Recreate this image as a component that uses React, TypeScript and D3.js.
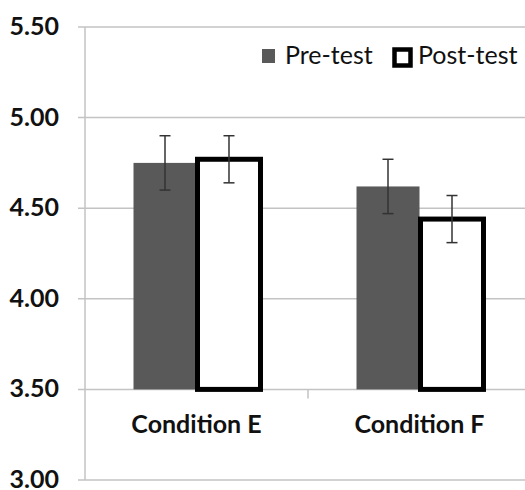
import React from 'react'
import * as d3 from 'd3'

const categories = ['Condition E', 'Condition F']
const seriesNames = ['Pre-test', 'Post-test']
const preTest = [4.75, 4.62]
const postTest = [4.77, 4.44]
const preErr = [0.15, 0.15]
const postErr = [0.13, 0.13]
const yTicks = [3.0, 3.5, 4.0, 4.5, 5.0, 5.5]

const width = 525
const height = 490
const font = 'Lato, "Open Sans", sans-serif'
const gridColor = '#c3c3c3'

export default function App() {
  const y = d3.scaleLinear().domain([3, 5.5]).range([480, 27])
  const x = d3.scaleBand<string>().domain(categories).range([85, 531])
  const xInner = d3.scaleBand<string>().domain(seriesNames).range([0, x.bandwidth()]).paddingOuter(0.77)
  const baseY = y(3.5)

  const rows = categories.map((c, i) => ({
    cat: c,
    values: [
      { name: seriesNames[0], v: preTest[i], e: preErr[i] },
      { name: seriesNames[1], v: postTest[i], e: postErr[i] },
    ],
  }))

  return (
    <svg width={width} height={height} style={{ position: 'absolute', left: 0, top: 0, background: '#fff' }}>
      {/* gridlines + y labels */}
      {yTicks.map((t) => (
        <g key={t}>
          <line x1={78} x2={width} y1={y(t)} y2={y(t)} stroke={gridColor} strokeWidth={1.5} />
          <text x={59} y={y(t) + 8} textAnchor="end" fontFamily={font} fontWeight="bold" fontSize={25} fill="#111">
            {t.toFixed(2)}
          </text>
        </g>
      ))}
      {/* vertical axis */}
      <line x1={x.range()[0]} x2={x.range()[0]} y1={y(5.5)} y2={y(3)} stroke={gridColor} strokeWidth={1.5} />
      {/* category separator tick */}
      <line x1={x('Condition F')} x2={x('Condition F')} y1={baseY} y2={baseY + 9} stroke={gridColor} strokeWidth={1.5} />

      {/* bars */}
      {rows.map((r) => (
        <g key={r.cat} transform={`translate(${x(r.cat)},0)`}>
          {r.values.map((d, j) => {
            const bx = xInner(d.name) as number
            const bw = xInner.bandwidth()
            const top = y(d.v)
            return (
              <g key={d.name}>
                {j === 0 ? (
                  <rect x={bx} y={top} width={bw} height={baseY - top} fill="#595959" />
                ) : (
                  <rect x={bx + 1} y={top} width={bw} height={baseY - top} fill="#fff" stroke="#000" strokeWidth={5} />
                )}
              </g>
            )
          })}
          {r.values.map((d, j) => {
            const cx = (xInner(d.name) as number) + xInner.bandwidth() / 2 + (j === 1 ? 1 : 0)
            return (
              <g key={d.name + '-err'} stroke="#333" strokeWidth={1.5}>
                <line x1={cx} x2={cx} y1={y(d.v + d.e)} y2={y(d.v - d.e)} />
                <line x1={cx - 5.5} x2={cx + 5.5} y1={y(d.v + d.e)} y2={y(d.v + d.e)} />
                <line x1={cx - 5.5} x2={cx + 5.5} y1={y(d.v - d.e)} y2={y(d.v - d.e)} />
              </g>
            )
          })}
          <text
            x={x.bandwidth() / 2}
            y={433}
            textAnchor="middle"
            fontFamily={font}
            fontWeight="bold"
            fontSize={25}
            fill="#111"
          >
            {r.cat}
          </text>
        </g>
      ))}

      {/* legend */}
      <g fontFamily={font} fontSize={25} fill="#111">
        <rect x={262} y={49} width={13} height={14} fill="#595959" />
        <text x={285} y={64}>{seriesNames[0]}</text>
        <rect x={394.5} y={49.5} width={16} height={16} fill="#fff" stroke="#000" strokeWidth={4.5} />
        <text x={418} y={64}>{seriesNames[1]}</text>
      </g>
    </svg>
  )
}
